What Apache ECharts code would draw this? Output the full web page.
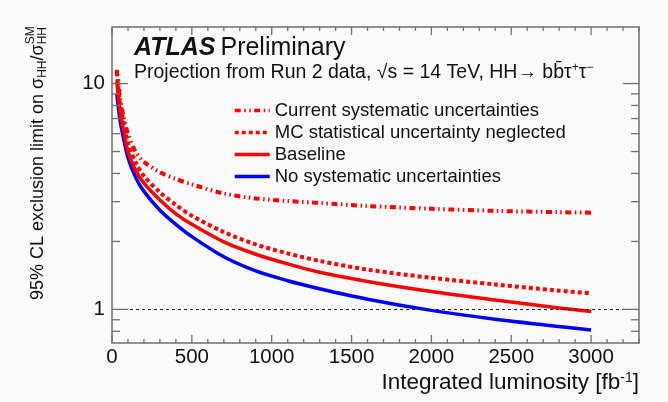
<!DOCTYPE html>
<html><head><meta charset="utf-8">
<script src="https://cdn.jsdelivr.net/npm/echarts@6/dist/echarts.min.js"></script>
<style>html,body{margin:0;padding:0;background:#fafafa}#c{width:668px;height:402px}</style>
</head><body><div id="c"></div>
<script>
// ---- data ----
const lumi            = [30, 50, 75, 100, 150, 200, 300, 400, 500, 700, 900, 1100, 1300, 1600, 2000, 2400, 2800, 3000];
const currentSyst     = [11.5, 8.7, 7.0, 6.0, 4.95, 4.5, 4.05, 3.78, 3.58, 3.26, 3.1, 3.02, 2.96, 2.87, 2.79, 2.73, 2.695, 2.68];
const mcStatNeglected = [11.2, 8.2, 6.6, 5.45, 4.45, 3.9, 3.3, 2.9, 2.6, 2.2, 1.94, 1.77, 1.64, 1.5, 1.38, 1.29, 1.21, 1.18];
const baseline        = [10.2, 7.6, 6.1, 5.0, 4.1, 3.62, 3.05, 2.65, 2.38, 1.99, 1.755, 1.59, 1.46, 1.33, 1.2, 1.1, 1.015, 0.98];
const noSyst          = [9.0, 6.9, 5.6, 4.7, 3.82, 3.33, 2.75, 2.38, 2.1, 1.71, 1.48, 1.34, 1.235, 1.11, 0.99, 0.905, 0.84, 0.81];
const seriesNames = ['Current systematic uncertainties', 'MC statistical uncertainty neglected', 'Baseline', 'No systematic uncertainties'];
const xTickLabels = [0, 500, 1000, 1500, 2000, 2500, 3000];
const yTickLabels = [1, 10];
const yMinorTicks = [0.8, 0.9, 2, 3, 4, 5, 6, 7, 8, 9];
const refLevel = 1;
const xRange = [0, 3300];
const yRange = [0.71, 17.8];

// ---- helpers ----
const FONT = '"Liberation Sans", Arial, Helvetica, sans-serif';
const xTickValues = [];
for (let v = xRange[0]; v <= xRange[1]; v += 100) xTickValues.push(v);
const yTickValues = yTickLabels.concat(yMinorTicks);
const pair = arr => lumi.map((x, i) => [x, arr[i]]);
const frameColor = '#6f6f6f';
const txt = '#111';

function renderXTick(params, api) {
  const v = api.value(0);
  const cs = params.coordSys;
  const px = api.coord([v, refLevel])[0];
  const major = xTickLabels.indexOf(v) >= 0;
  const len = major ? 8 : 4;
  const yb = cs.y + cs.height, yt = cs.y;
  const st = { stroke: frameColor, lineWidth: 1.3 };
  return { type: 'group', children: [
    { type: 'line', shape: { x1: px, y1: yb, x2: px, y2: yb - len }, style: st },
    { type: 'line', shape: { x1: px, y1: yt, x2: px, y2: yt + len }, style: st }
  ]};
}
function renderYTick(params, api) {
  const v = api.value(1);
  const cs = params.coordSys;
  const py = api.coord([xRange[0], v])[1];
  const major = yTickLabels.indexOf(v) >= 0;
  const len = major ? 16 : 8;
  const xl = cs.x, xr = cs.x + cs.width;
  const st = { stroke: frameColor, lineWidth: 1.3 };
  return { type: 'group', children: [
    { type: 'line', shape: { x1: xl, y1: py, x2: xl + len, y2: py }, style: st },
    { type: 'line', shape: { x1: xr, y1: py, x2: xr - len, y2: py }, style: st }
  ]};
}

// measure text for the stacked y-axis title
const ctx = document.createElement('canvas').getContext('2d');
function tw(t, size) { ctx.font = size + 'px ' + FONT; return ctx.measureText(t).width; }
const YT = 18, YS = 12;
const t1 = '95% CL exclusion limit on σ', t2 = 'HH', t3 = '/σ';
const w1 = tw(t1, YT), w2 = tw(t2, YS), w3 = tw(t3, YT);

const chart = echarts.init(document.getElementById('c'), null, { renderer: 'canvas' });
const option = {
  backgroundColor: '#fafafa',
  animation: false,
  textStyle: { fontFamily: FONT },
  title: [
    { left: 134, top: 36, padding: 0,
      text: '{a|ATLAS} {b|Preliminary}',
      textStyle: { rich: {
        a: { fontFamily: FONT, fontWeight: 'bold', fontStyle: 'italic', fontSize: 25, color: txt },
        b: { fontFamily: FONT, fontWeight: 'normal', fontSize: 25, color: txt } } } },
    { left: 134, top: 62, padding: 0,
      text: 'Projection from Run 2 data, √s = 14 TeV, HH→ bb\u0304τ{sup|+}τ{sup|−}',
      textStyle: { fontFamily: FONT, fontSize: 19.5, fontWeight: 'normal', color: txt, lineHeight: 22,
        rich: { sup: { fontFamily: FONT, fontSize: 12, color: txt, verticalAlign: 'top', lineHeight: 12 } } } }
  ],
  legend: {
    data: seriesNames, orient: 'vertical', left: 233, top: 101, padding: 0,
    itemWidth: 35, itemHeight: 14, itemGap: 3,
    itemStyle: { color: 'rgba(0,0,0,0)', borderColor: 'rgba(0,0,0,0)', borderWidth: 0, opacity: 0 },
    lineStyle: { width: 3.5 },
    textStyle: { fontFamily: FONT, fontSize: 18.5, color: txt },
    selectedMode: false
  },
  grid: { left: 112, right: 29, top: 27, bottom: 59, show: true, borderColor: frameColor, borderWidth: 1.5,
    backgroundColor: 'transparent', outerBoundsMode: 'none', containLabel: false },
  xAxis: {
    type: 'value', min: xRange[0], max: xRange[1], interval: 500,
    axisLine: { show: false }, axisTick: { show: false }, splitLine: { show: false },
    axisLabel: { fontFamily: FONT, fontSize: 20.5, color: txt, margin: 4, showMaxLabel: false, formatter: v => String(v) }
  },
  yAxis: {
    type: 'log', logBase: 10, min: yRange[0], max: yRange[1],
    axisLine: { show: false }, axisTick: { show: false }, splitLine: { show: false }, minorTick: { show: false },
    axisLabel: { fontFamily: FONT, fontSize: 20.5, color: txt, margin: 7, showMinLabel: false, showMaxLabel: false,
      formatter: v => { const r = yTickLabels.find(t => Math.abs(t - v) < 1e-6 * t); return r === undefined ? '' : String(r); } }
  },
  graphic: [
    { type: 'group', x: 38, y: 300, rotation: Math.PI / 2,
      children: [
        { type: 'text', x: 0, y: 0, style: { text: t1, fontFamily: FONT, fontSize: YT, fill: txt, align: 'left', verticalAlign: 'middle' } },
        { type: 'text', x: w1, y: 5, style: { text: t2, fontFamily: FONT, fontSize: YS, fill: txt, align: 'left', verticalAlign: 'middle' } },
        { type: 'text', x: w1 + w2, y: 0, style: { text: t3, fontFamily: FONT, fontSize: YT, fill: txt, align: 'left', verticalAlign: 'middle' } },
        { type: 'text', x: w1 + w2 + w3, y: -7, style: { text: 'SM', fontFamily: FONT, fontSize: YS, fill: txt, align: 'left', verticalAlign: 'middle' } },
        { type: 'text', x: w1 + w2 + w3, y: 5, style: { text: 'HH', fontFamily: FONT, fontSize: YS, fill: txt, align: 'left', verticalAlign: 'middle' } }
      ] },
    { type: 'text', x: 639, y: 383,
      style: { text: 'Integrated luminosity [fb{sup|-1}]', fontFamily: FONT, fontSize: 22.5, fill: txt, align: 'right', verticalAlign: 'middle',
        lineHeight: 24, rich: { sup: { fontFamily: FONT, fontSize: 14, fill: txt, verticalAlign: 'top', lineHeight: 13 } } } }
  ],
  series: [
    { name: 'No systematic uncertainties', type: 'line', data: pair(noSyst), symbol: 'none', smooth: 0.3,
      lineStyle: { color: '#0000ff', width: 3.5 }, itemStyle: { color: '#0000ff' }, z: 3 },
    { name: 'Baseline', type: 'line', data: pair(baseline), symbol: 'none', smooth: 0.3,
      lineStyle: { color: '#ff0000', width: 3.5 }, itemStyle: { color: '#ff0000' }, z: 4,
      markLine: { silent: true, symbol: ['none', 'none'], label: { show: false },
        lineStyle: { color: '#222', width: 1.2, type: [3, 3] }, data: [{ yAxis: refLevel }] } },
    { name: 'MC statistical uncertainty neglected', type: 'line', data: pair(mcStatNeglected), symbol: 'none', smooth: 0.3,
      lineStyle: { color: '#ff0000', width: 4, type: [4, 3] }, itemStyle: { color: '#ff0000' }, z: 5 },
    { name: 'Current systematic uncertainties', type: 'line', data: pair(currentSyst), symbol: 'none', smooth: 0.3,
      lineStyle: { color: '#ff0000', width: 4, type: [6, 3.5, 1.5, 3.5, 1.5, 3.5] }, itemStyle: { color: '#ff0000' }, z: 5 },
    { name: 'xticks', type: 'custom', renderItem: renderXTick, data: xTickValues.map(v => [v, refLevel]), clip: false, silent: true, z: 6 },
    { name: 'yticks', type: 'custom', renderItem: renderYTick, data: yTickValues.map(v => [xRange[0], v]), clip: false, silent: true, z: 6 }
  ]
};
chart.setOption(option);
</script></body></html>
